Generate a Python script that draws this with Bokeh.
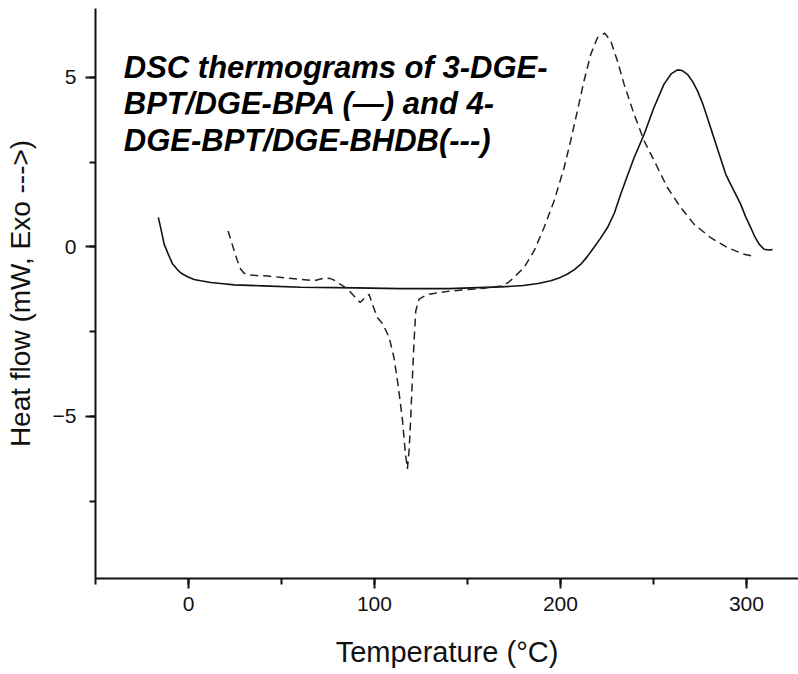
from bokeh.plotting import figure
from bokeh.models import Label, SingleIntervalTicker, Range1d
from bokeh.embed import file_html
from bokeh.resources import INLINE

# 3-DGE-BPT/DGE-BPA (solid trace)
t_bpa = [-16.2, -14.5, -13.1, -11, -8.6, -6, -4.1, -0.5, 3, 6.6, 12, 17.4, 24.5, 40,
         60.4, 90, 114, 140, 168, 180, 188, 194.8, 200, 203.8, 207.5, 211, 214.5, 218,
         221.5, 225.3, 229, 232.4, 236, 239.6, 245, 250.3, 255.7, 259.5, 262.9, 265.5,
         268.3, 271, 273.7, 276.5, 279, 284.2, 288.9, 291, 293.3, 296.9, 299.5, 302.3,
         304.5, 306.8, 309.5, 312, 314]
hf_bpa = [0.87, 0.45, 0.08, -0.2, -0.5, -0.67, -0.77, -0.88, -0.96, -1.0, -1.05, -1.08,
          -1.12, -1.15, -1.19, -1.21, -1.23, -1.23, -1.18, -1.14, -1.08, -1.0, -0.9, -0.8,
          -0.67, -0.51, -0.28, -0.02, 0.25, 0.57, 1.0, 1.55, 2.1, 2.63, 3.32, 4.11, 4.8,
          5.1, 5.22, 5.2, 5.09, 4.88, 4.6, 4.22, 3.81, 2.93, 2.14, 1.9, 1.65, 1.26, 0.9,
          0.57, 0.3, 0.08, -0.07, -0.09, -0.08]

# 4-DGE-BPT/DGE-BHDB (dashed trace)
t_bhdb = [21.3, 22.8, 24.5, 26.3, 28, 29.9, 33, 38, 42.5, 50, 60.4, 67.5, 72.9, 76, 78.3,
          81, 83.7, 86.5, 89, 92.3, 95.3, 97.1, 98.9, 101.6, 104.3, 106, 107.9, 110.5,
          112.9, 115.1, 116.5, 117.7, 118.6, 119.5, 120.4, 121.3, 122.2, 124, 128.5, 135,
          141, 150, 158.9, 167.9, 172, 175, 180.4, 185.8, 191.2, 196.6, 202, 205.5, 209.1,
          212.7, 216.3, 219.9, 223.8, 227, 230.6, 234.2, 239.6, 245, 252.2, 257.5, 264.7,
          271.8, 280.8, 289.8, 298.7, 305]
hf_bhdb = [0.47, 0.2, -0.1, -0.41, -0.65, -0.78, -0.83, -0.85, -0.86, -0.9, -0.96, -1.0,
           -0.92, -0.93, -0.98, -1.08, -1.17, -1.3, -1.45, -1.64, -1.48, -1.4, -1.69, -2.09,
           -2.26, -2.45, -2.67, -3.27, -4.15, -5.13, -6.02, -6.55, -6.02, -5.04, -3.86,
           -2.77, -1.89, -1.54, -1.4, -1.35, -1.3, -1.26, -1.22, -1.15, -1.05, -0.9, -0.61,
           -0.12, 0.57, 1.36, 2.34, 3.13, 4.01, 4.9, 5.68, 6.17, 6.3, 6.08, 5.49, 4.8, 3.91,
           3.13, 2.34, 1.75, 1.16, 0.67, 0.27, -0.02, -0.22, -0.29]

title_lines = ["DSC thermograms of 3-DGE-",
               "BPT/DGE-BPA (\u2014) and 4-",
               "DGE-BPT/DGE-BHDB(---)"]

FONT = "Liberation Sans"

p = figure(width=798, height=674, output_backend="svg", toolbar_location=None,
           x_range=Range1d(-50, 328), y_range=Range1d(-9.78, 7.03),
           min_border_left=95, min_border_right=0, min_border_top=8,
           min_border_bottom=96)
p.outline_line_color = None
p.xgrid.visible = False
p.ygrid.visible = False
p.background_fill_color = "white"
p.border_fill_color = "white"

p.line(t_bpa, hf_bpa, line_color="#111111", line_width=1.6)
p.line(t_bhdb, hf_bhdb, line_color="#222222", line_width=1.5, line_dash="8 5")

p.xaxis.ticker = SingleIntervalTicker(interval=100, num_minor_ticks=2)
p.yaxis.ticker = SingleIntervalTicker(interval=5, num_minor_ticks=2)
p.xaxis.axis_label = "Temperature (\u00b0C)"
p.yaxis.axis_label = "Heat flow (mW, Exo --->)"

for ax in (p.xaxis[0], p.yaxis[0]):
    ax.axis_line_width = 2
    ax.axis_line_color = "#111111"
    ax.major_tick_line_width = 2
    ax.minor_tick_line_width = 2
    ax.major_tick_line_color = "#111111"
    ax.minor_tick_line_color = "#111111"
    ax.major_tick_in = 0
    ax.major_tick_out = 10
    ax.minor_tick_in = 0
    ax.minor_tick_out = 6
    ax.major_label_text_font = FONT
    ax.major_label_text_font_size = "21px"
    ax.major_label_text_color = "#111111"
    ax.axis_label_text_font = FONT
    ax.axis_label_text_font_style = "normal"
    ax.axis_label_text_color = "#111111"

p.xaxis.axis_label_text_font_size = "29px"
p.yaxis.axis_label_text_font_size = "28px"
p.xaxis.major_label_standoff = 8
p.yaxis.major_label_standoff = 9
p.xaxis.axis_label_standoff = 22
p.yaxis.axis_label_standoff = 14

for i, line in enumerate(title_lines):
    p.add_layout(Label(x=-34.8, y=5.30 - i * 1.08, text=line,
                       text_font=FONT, text_font_size="31px",
                       text_font_style="bold italic", text_color="black",
                       text_baseline="alphabetic", text_align="left"))

open("out.html", "w").write(file_html(p, INLINE))
